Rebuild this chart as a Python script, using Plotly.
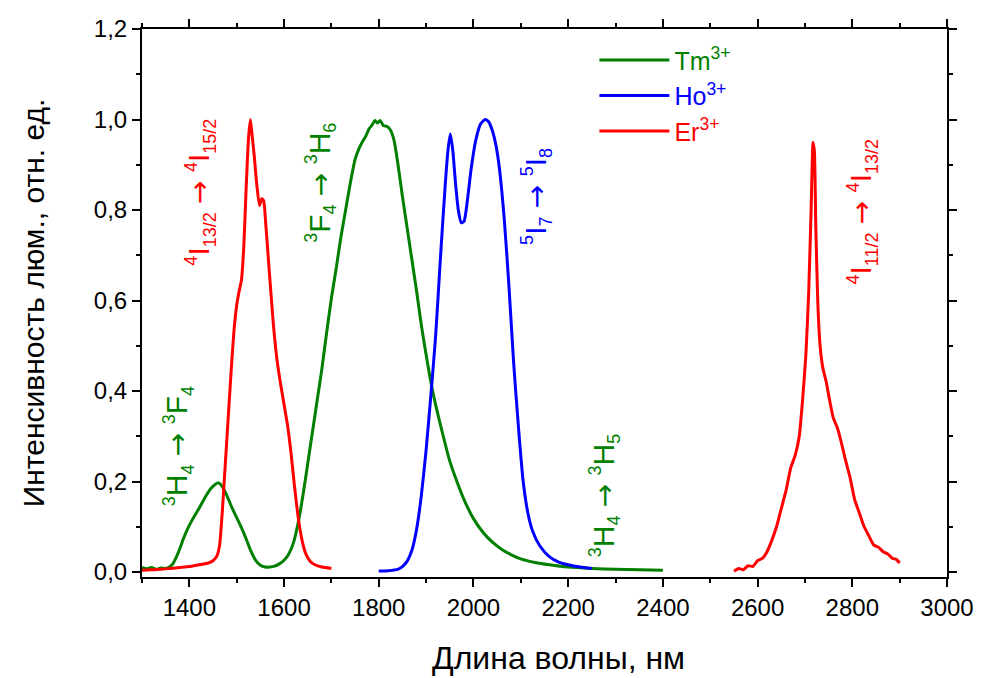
import plotly.graph_objects as go

# ---------------- data ----------------
tm_x = [1300, 1310, 1320, 1330, 1340, 1350, 1358, 1365, 1372, 1380, 1388, 1396, 1405, 1420, 1435, 1445,
        1455, 1462, 1470, 1480, 1490, 1500, 1510, 1520, 1530, 1540, 1550, 1560, 1570, 1580, 1590,
        1600, 1610, 1620, 1630, 1640, 1650, 1660, 1670, 1680, 1690, 1700, 1710, 1720, 1730, 1740,
        1750, 1758, 1765, 1772, 1780, 1786, 1792, 1797, 1803, 1810, 1817, 1824, 1832, 1840, 1850,
        1860, 1870, 1880, 1890, 1900, 1910, 1920, 1935, 1950, 1965, 1980, 2000, 2020, 2040, 2060,
        2080, 2100, 2130, 2160, 2200, 2250, 2300, 2350, 2400]
tm_y = [0.010, 0.007, 0.010, 0.006, 0.009, 0.008, 0.011, 0.018, 0.032, 0.052, 0.075, 0.095, 0.113, 0.140,
        0.168, 0.184, 0.194, 0.197, 0.188, 0.167, 0.142, 0.120, 0.098, 0.073, 0.046, 0.026, 0.015,
        0.011, 0.011, 0.013, 0.018, 0.026, 0.040, 0.065, 0.110, 0.170, 0.240, 0.310, 0.380, 0.450,
        0.530, 0.605, 0.670, 0.740, 0.800, 0.860, 0.912, 0.935, 0.950, 0.962, 0.980, 0.988, 0.998,
        0.992, 0.998, 0.986, 0.985, 0.978, 0.955, 0.905, 0.830, 0.760, 0.690, 0.620, 0.545, 0.480,
        0.420, 0.370, 0.305, 0.245, 0.200, 0.160, 0.118, 0.088, 0.066, 0.050, 0.038, 0.029, 0.021,
        0.016, 0.011, 0.008, 0.006, 0.005, 0.004]

ho_x = [1800, 1820, 1840, 1850, 1860, 1870, 1880, 1890, 1900, 1910, 1920, 1930, 1940, 1946, 1951,
        1956, 1962, 1968, 1974, 1980, 1987, 1995, 2005, 2015, 2025, 2032, 2040, 2048, 2055, 2065,
        2075, 2085, 2095, 2105, 2115, 2125, 2140, 2160, 2180, 2200, 2225, 2250]
ho_y = [0.002, 0.003, 0.006, 0.012, 0.024, 0.048, 0.095, 0.170, 0.270, 0.390, 0.520, 0.690, 0.850,
        0.930, 0.968, 0.935, 0.860, 0.800, 0.772, 0.775, 0.820, 0.890, 0.955, 0.990, 1.000, 0.995,
        0.975, 0.940, 0.890, 0.780, 0.630, 0.460, 0.320, 0.200, 0.130, 0.090, 0.058, 0.034, 0.022,
        0.016, 0.011, 0.008]

er1_x = [1300, 1320, 1340, 1360, 1380, 1400, 1420, 1440, 1450, 1458, 1464, 1470, 1476, 1482, 1488,
         1494, 1500, 1505, 1510, 1515, 1520, 1525, 1529, 1533, 1537, 1542, 1548, 1553, 1557, 1562,
         1567, 1572, 1578, 1585, 1592, 1600, 1608, 1615, 1622, 1630, 1638, 1646, 1655, 1665, 1680,
         1700]
er1_y = [0.004, 0.005, 0.006, 0.008, 0.010, 0.012, 0.016, 0.020, 0.025, 0.035, 0.060, 0.140, 0.240,
         0.340, 0.440, 0.530, 0.590, 0.620, 0.645, 0.720, 0.850, 0.960, 1.000, 0.960, 0.920, 0.860,
         0.810, 0.825, 0.820, 0.760, 0.690, 0.620, 0.540, 0.470, 0.420, 0.370, 0.320, 0.260, 0.190,
         0.120, 0.070, 0.040, 0.024, 0.016, 0.011, 0.008]

er2_x = [2550, 2560, 2570, 2580, 2590, 2600, 2610, 2620, 2630, 2640, 2650, 2660, 2670, 2680, 2688,
         2695, 2702, 2708, 2713, 2717, 2720, 2723, 2727, 2732, 2738, 2745, 2752, 2760, 2768, 2776,
         2785, 2795, 2805, 2815, 2825, 2835, 2845, 2855, 2865, 2875, 2885, 2893, 2900]
er2_y = [0.002, 0.008, 0.005, 0.014, 0.012, 0.025, 0.030, 0.045, 0.070, 0.100, 0.140, 0.180, 0.230,
         0.260, 0.300, 0.380, 0.480, 0.620, 0.800, 0.950, 0.930, 0.760, 0.600, 0.500, 0.450, 0.420,
         0.380, 0.340, 0.320, 0.290, 0.250, 0.210, 0.160, 0.130, 0.100, 0.080, 0.060, 0.055, 0.045,
         0.040, 0.030, 0.028, 0.020]

x_ticks = [1400, 1600, 1800, 2000, 2200, 2400, 2600, 2800, 3000]
y_ticks = [0.0, 0.2, 0.4, 0.6, 0.8, 1.0, 1.2]

GREEN = "#007F00"
BLUE = "#0000FF"
RED = "#FF0000"

fig = go.Figure()
lw = 3
fig.add_trace(go.Scatter(x=tm_x, y=tm_y, mode="lines", line=dict(color=GREEN, width=lw, shape="spline", smoothing=0.6),
                         name='<span style="color:#007F00">Tm<sup>3+</sup></span>'))
fig.add_trace(go.Scatter(x=ho_x, y=ho_y, mode="lines", line=dict(color=BLUE, width=lw, shape="spline", smoothing=0.6),
                         name='<span style="color:#0000FF">Ho<sup>3+</sup></span>'))
fig.add_trace(go.Scatter(x=er1_x, y=er1_y, mode="lines", line=dict(color=RED, width=lw, shape="spline", smoothing=0.5),
                         name='<span style="color:#FF0000">Er<sup>3+</sup></span>', legendgroup="er"))
fig.add_trace(go.Scatter(x=er2_x, y=er2_y, mode="lines", line=dict(color=RED, width=lw, shape="spline", smoothing=0.4),
                         showlegend=False, legendgroup="er"))

S = 'style="font-size:18px"'
A = '<span style="font-family:DejaVu Sans;font-size:28px">→</span>'
def up(t):
    return f'<sup><span {S}>{t}</span></sup>'
def dn(t):
    return f'<sub><span {S}>{t}</span></sub>'

labels = [
    (1424, 0.84, f'{up(4)}I{dn("13/2")} {A} {up(4)}I{dn("15/2")}', RED),
    (1678, 0.86, f'{up(3)}F{dn(4)} {A} {up(3)}H{dn(6)}', GREEN),
    (2133, 0.83, f'{up(5)}I{dn(7)} {A} {up(5)}I{dn(8)}', BLUE),
    (1376, 0.278, f'{up(3)}H{dn(4)} {A} {up(3)}F{dn(4)}', GREEN),
    (2276, 0.17, f'{up(3)}H{dn(4)} {A} {up(3)}H{dn(5)}', GREEN),
    (2821, 0.797, f'{up(4)}I{dn("11/2")} {A} {up(4)}I{dn("13/2")}', RED),
]
for x, y, t, c in labels:
    fig.add_annotation(x=x, y=y, xref="x", yref="y", text=t, textangle=-90, showarrow=False,
                       font=dict(family="Liberation Sans, Arial, sans-serif", size=30, color=c))

axis_common = dict(showline=True, linecolor="black", linewidth=2, mirror="ticks", ticks="outside",
                   ticklen=8, tickwidth=2, tickcolor="black", showgrid=False, zeroline=False,
                   tickfont=dict(family="Liberation Sans, Arial, sans-serif", size=24, color="black"))

fig.update_xaxes(range=[1300, 3000], tickvals=x_ticks, **axis_common,
                 minor=dict(dtick=100, ticks="outside", ticklen=4, tickwidth=2, tickcolor="black"))
fig.update_yaxes(range=[-0.011, 1.2], tickvals=y_ticks, tickformat=".1f", **axis_common,
                 minor=dict(dtick=0.1, ticks="outside", ticklen=4, tickwidth=2, tickcolor="black"),
                 title=dict(text="Интенсивность люм., отн. ед.", standoff=40,
                            font=dict(family="Liberation Sans, Arial, sans-serif", size=30, color="black")))

# x-axis title (placed slightly right of centre as in the reference)
fig.add_annotation(x=0.517, y=-0.147, xref="paper", yref="paper", xanchor="center", yanchor="middle",
                   text="Длина волны, нм", showarrow=False,
                   font=dict(family="Liberation Sans, Arial, sans-serif", size=32, color="black"))

fig.update_layout(
    width=986, height=678,
    margin=dict(l=142, r=34, t=29, b=101),
    plot_bgcolor="white", paper_bgcolor="white",
    separators=", ",
    showlegend=True,
    legend=dict(x=0.562, y=0.985, xanchor="left", yanchor="top", bgcolor="rgba(0,0,0,0)",
                font=dict(family="Liberation Sans, Arial, sans-serif", size=25, color="black"),
                itemwidth=70, tracegroupgap=0),
)

fig.write_html("out.html")
